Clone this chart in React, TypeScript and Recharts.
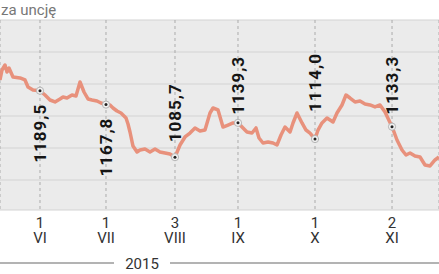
import React from 'react';
import { LineChart, Line, XAxis, YAxis, CartesianGrid } from 'recharts';

// trading-day position (from the left edge of the chart) and gold price, USD per ounce
const days = [
  0, 0.67, 1.67, 2.33, 3, 4.33, 6.67, 8.33, 9.33, 11, 13.33,
  15, 16.67, 18.33, 20, 21, 22.33, 24, 25.33, 26.67, 28, 29.33, 30.67, 32.33, 33.67, 35.33,
  36.67, 37.67, 39, 40.33, 42, 42.67, 43.33, 44.33, 45.67, 46.67, 48.33, 50, 51.67, 53.33, 55, 56.67, 58.33,
  60, 61.67, 63.33, 65, 66.67, 68.33, 70, 71, 72.67, 74.33, 76, 77.67, 79.33,
  81, 82.33, 84, 85.33, 86.33, 87.67, 89.33, 91, 92.33, 93.67, 95, 96.67, 97.67, 99, 100.67, 102, 103.33, 105,
  106, 107.33, 109, 110, 111, 112.33, 114, 115.33, 116.67, 118.33, 120, 121.67, 123.33, 125, 126.67, 128.33, 130.67,
  132.33, 134, 135.33, 136.67, 138.33, 140, 141.67, 143.33, 145, 146.33,
];
const prices = [
  1206.3, 1221.9, 1229.7, 1218.8, 1225.0, 1210.9, 1209.4, 1206.3, 1195.3, 1190.6, 1189.5,
  1182.8, 1175.0, 1171.9, 1176.6, 1179.7, 1178.1, 1182.8, 1181.3, 1203.1, 1187.5, 1176.6, 1175.0, 1173.4, 1170.3, 1167.8,
  1167.2, 1162.5, 1157.8, 1154.7, 1146.9, 1137.5, 1125.0, 1103.1, 1093.8, 1096.9, 1098.4, 1093.8, 1098.4, 1093.8, 1092.2, 1090.6, 1085.7,
  1104.7, 1117.2, 1123.4, 1131.3, 1126.6, 1128.1, 1154.7, 1162.5, 1159.4, 1132.8, 1135.9, 1139.1, 1139.3,
  1131.3, 1125.0, 1123.4, 1131.3, 1115.6, 1107.8, 1109.4, 1107.8, 1104.7, 1120.3, 1132.8, 1125.0, 1139.1, 1154.7, 1139.1, 1128.1, 1123.4, 1114.0,
  1128.1, 1139.1, 1146.9, 1143.8, 1140.6, 1154.7, 1167.2, 1182.8, 1178.1, 1171.9, 1173.4, 1168.8, 1167.2, 1164.1, 1167.2, 1156.3, 1133.3,
  1112.5, 1096.9, 1089.1, 1092.2, 1087.5, 1085.9, 1073.4, 1071.9, 1081.3, 1085.9,
];

const tickDays = [13.33, 35.33, 58.33, 79.33, 105, 130.67];
const tickDayLabels = ['1', '1', '3', '1', '1', '2'];
const tickMonthLabels = ['VI', 'VII', 'VIII', 'IX', 'X', 'XI'];
const gridValues = [1050, 1100, 1150, 1200, 1250];
const yearLabel = '2015';
const unitLabel = 'za uncję';

const data = days.map((d, i) => ({ day: d, price: prices[i] }));

// style: vertical shift of each value label's starting point relative to its marker
const labelShift = [72, 72, -15, -8, -27, -12];

const FONT = 'Roboto, "Noto Sans", sans-serif';

const renderDot = (props: any) => {
  const { cx, cy, payload, index } = props;
  const k = tickDays.indexOf(payload.day);
  if (k < 0 || cx == null) return <g key={`d${index}`} />;
  const lx = cx + 6;
  const ly = cy + labelShift[k];
  return (
    <g key={`d${index}`}>
      <circle cx={cx} cy={cy} r={3.6} fill="#f2f2f2" stroke="#b5b5b5" strokeWidth={1} />
      <circle cx={cx} cy={cy} r={1.5} fill="#222" />
      <text
        x={lx}
        y={ly}
        transform={`rotate(-90 ${lx} ${ly})`}
        textAnchor="start"
        fontFamily={FONT}
        fontWeight={700}
        fontSize={17}
        letterSpacing={1}
        fill="#151515"
      >
        {payload.price.toFixed(1).replace('.', ',')}
      </text>
    </g>
  );
};

const renderTick = (props: any) => {
  const { x, y, index } = props;
  return (
    <g>
      <text x={x} y={y + 18} textAnchor="middle" fontFamily={FONT} fontSize={15} fill="#333">
        {tickDayLabels[index]}
      </text>
      <text x={x} y={y + 33} textAnchor="middle" fontFamily={FONT} fontSize={15} fill="#333">
        {tickMonthLabels[index]}
      </text>
    </g>
  );
};

export default function App() {
  return (
    <div style={{ position: 'absolute', left: 0, top: 0, width: 439, height: 274, background: '#fff' }}>
      <LineChart width={439} height={274} data={data} margin={{ top: 20, right: 0, left: 0, bottom: 0 }}>
        <CartesianGrid vertical={false} fill="#ebebeb" stroke="#d3d3d3" strokeWidth={1} />
        <CartesianGrid horizontal={false} stroke="#ababab" strokeDasharray="3 3" strokeWidth={1} />
        <XAxis
          dataKey="day"
          type="number"
          domain={[0, 146.33]}
          ticks={tickDays}
          axisLine={false}
          tickLine={false}
          tickSize={0}
          tickMargin={0}
          height={64}
          interval={0}
          tick={renderTick}
          allowDataOverflow
        />
        <YAxis hide type="number" domain={[1003.125, 1300]} ticks={gridValues} allowDataOverflow />
        <Line
          type="linear"
          dataKey="price"
          stroke="#e8917c"
          strokeWidth={3.5}
          strokeLinejoin="round"
          dot={renderDot}
          activeDot={false}
          isAnimationActive={false}
        />
      </LineChart>
      <svg width={439} height={274} style={{ position: 'absolute', left: 0, top: 0, pointerEvents: 'none' }}>
        <text x={1} y={15} fontFamily={FONT} fontSize={15} fill="#777">
          {unitLabel}
        </text>
        <line x1={0} y1={263} x2={114} y2={263} stroke="#9a9a9a" strokeWidth={1.5} />
        <line x1={170} y1={263} x2={439} y2={263} stroke="#9a9a9a" strokeWidth={1.5} />
        <text x={142} y={269} textAnchor="middle" fontFamily={FONT} fontSize={15} fill="#333">
          {yearLabel}
        </text>
      </svg>
    </div>
  );
}
